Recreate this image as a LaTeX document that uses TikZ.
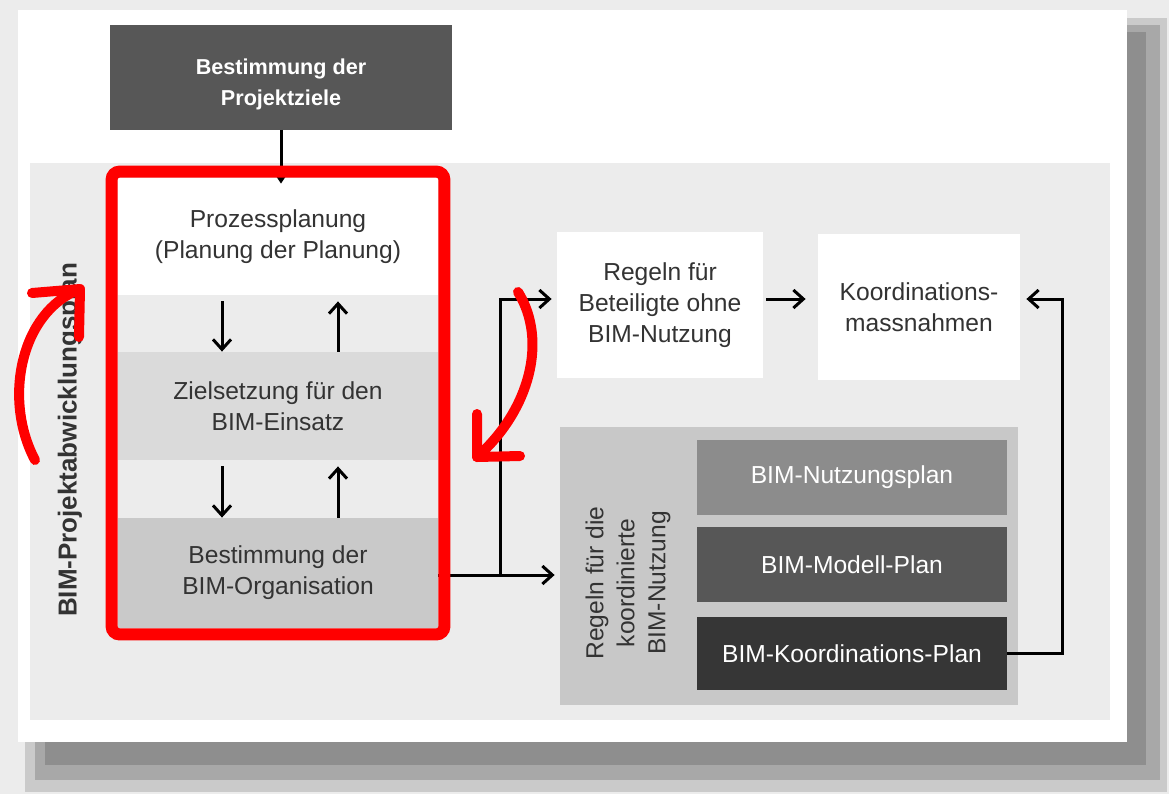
\documentclass[tikz,border=0pt]{standalone}
\usepackage{fontspec}
\setmainfont{Liberation Sans}
\usetikzlibrary{arrows.meta,positioning,fit,calc}
\definecolor{bgrau}{HTML}{ECECEC}
\definecolor{schattenA}{HTML}{CACACA}
\definecolor{schattenB}{HTML}{A8A8A8}
\definecolor{schattenC}{HTML}{8E8E8E}
\definecolor{dunkel}{HTML}{575757}
\definecolor{mittel}{HTML}{8C8C8C}
\definecolor{sehrdunkel}{HTML}{363636}
\definecolor{hell}{HTML}{DADADA}
\definecolor{mittelhell}{HTML}{C9C9C9}
\definecolor{regelgrau}{HTML}{C8C8C8}
\definecolor{textgrau}{HTML}{333333}
\newcommand{\bimfont}{\fontsize{12.3}{15.5}\selectfont}

\begin{document}
\begin{tikzpicture}[
    x=0.5pt, y=-0.5pt,
    stufe/.style={inner sep=0pt, minimum width=160pt, align=center, font=\bimfont, text=textgrau},
    regel/.style={inner sep=0pt, minimum width=103pt, minimum height=73pt, fill=white, align=center, font=\bimfont, text=textgrau},
    plan/.style={inner sep=0pt, minimum width=155pt, minimum height=37.5pt, align=center, font=\bimfont, text=white},
    pfeil/.style={-{Straight Barb[length=5pt,width=9pt]}, line width=1.5pt},
    rotpfeil/.style={red, line width=5pt, line cap=round, line join=round}
]
\useasboundingbox (0,0) rectangle (1169,794);

% Hintergrund mit Schatten
\fill[bgrau] (0,0) rectangle (1169,794);
\fill[schattenA] (25,18) rectangle (1167,792);
\fill[schattenB] (35,25) rectangle (1160,780);
\fill[schattenC] (45,32) rectangle (1146,765);
\fill[white] (18,10) rectangle (1127,742);
\fill[bgrau] (30,163) rectangle (1110,720);

% Projektziele
\node[stufe, fill=dunkel, text=white, minimum width=171pt, minimum height=52.5pt,
      font=\bfseries\fontsize{10.8}{15.5}\selectfont] (ziele) at (281,77) {\rule{0pt}{15pt}Bestimmung der\\Projektziele};

% Linke Spalte
\node[stufe, fill=white, minimum height=58.5pt] (proz) at (278,236.5) {Prozessplanung\\(Planung der Planung)};
\node[stufe, fill=hell, minimum height=54pt] (ziel) at (278,406) {Zielsetzung f\"ur den\\BIM-Einsatz};
\node[stufe, fill=mittelhell, minimum height=55pt] (orga) at (278,573) {Bestimmung der\\BIM-Organisation};

\draw[pfeil] ([xshift=-28pt,yshift=-3pt]proz.south) -- ([xshift=-28pt]ziel.north);
\draw[pfeil] ([xshift=30pt]ziel.north) -- ([xshift=30pt,yshift=-3pt]proz.south);
\draw[pfeil] ([xshift=-28pt,yshift=-3pt]ziel.south) -- ([xshift=-28pt]orga.north);
\draw[pfeil] ([xshift=30pt]orga.north) -- ([xshift=30pt,yshift=-3pt]ziel.south);

\node[rotate=90, font=\bfseries\fontsize{13}{15}\selectfont, text=textgrau] (planlabel) at (70,440) {BIM-Projektabwicklungsplan};

% Rechte Seite
\node[regel] (regeln) at (660,305) {Regeln f\"ur\\Beteiligte ohne\\BIM-Nutzung};
\node[regel, minimum width=101pt] (koord) at (919,307) {Koordinations-\\massnahmen};

\node[fill=regelgrau, minimum width=229pt, minimum height=139pt, inner sep=0pt] (koordpanel) at (789,566) {};
\node[rotate=90, align=center, font=\bimfont, text=textgrau] (koordlabel) at (628,583) {Regeln f\"ur die\\koordinierte\\BIM-Nutzung};
\node[plan, fill=mittel] (nutz) at (852,477.5) {BIM-Nutzungsplan};
\node[plan, fill=dunkel] (modell) at (852,564.5) {BIM-Modell-Plan};
\node[plan, fill=sehrdunkel, minimum height=36.5pt] (koplan) at (852,653.5) {BIM-Koordinations-Plan};

% Verbindungen
\coordinate (knick) at (500,575);
\draw[-{Triangle[length=4pt,width=5pt]}, line width=1.5pt] (ziele.south) -- ([yshift=-3pt]ziele.south |- proz.north);
\draw[pfeil, shorten >=2.5pt] (orga.east |- knick) -- (knick -| koordpanel.west);
\draw[pfeil, shorten >=2.5pt] (knick) |- ([yshift=3pt]regeln.west);
\draw[pfeil, shorten <=1.5pt, shorten >=6pt] ([yshift=3pt]regeln.east) -- ([yshift=3pt]regeln.east -| koord.west);
\draw[pfeil, shorten >=3pt] (koplan.east) -- ++(55,0) |- ([yshift=3pt]regeln.east -| koord.east);

% Markierung
\node[draw=red, line width=6pt, rounded corners=4pt, inner sep=3pt, fit=(proz)(orga)] (rahmen) {};
\draw[rotpfeil] (35,460) .. controls (3,400) and (20,312) .. (80,289);
\draw[rotpfeil] (32,293) -- (80,289) -- (79,337);
\draw[rotpfeil] (518,292) .. controls (548,340) and (530,410) .. (477,457);
\draw[rotpfeil] (477,414) -- (477,457) -- (520,456);
\end{tikzpicture}
\end{document}
